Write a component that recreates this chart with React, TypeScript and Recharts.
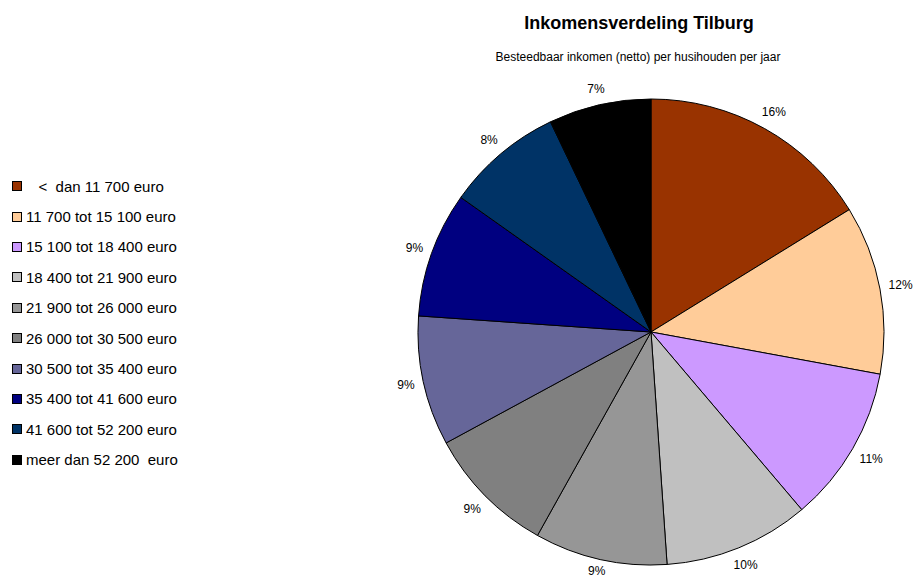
import React from 'react';
import { PieChart, Pie, Cell } from 'recharts';

// inkomensklassen
const categories = [
    '   <  dan 11 700 euro',
    '11 700 tot 15 100 euro',
    '15 100 tot 18 400 euro',
    '18 400 tot 21 900 euro',
    '21 900 tot 26 000 euro',
    '26 000 tot 30 500 euro',
    '30 500 tot 35 400 euro',
    '35 400 tot 41 600 euro',
    '41 600 tot 52 200 euro',
    'meer dan 52 200  euro',
];

// aandeel huishoudens (%)
const shares = [16.2, 11.7, 10.9, 10.1, 9.2, 9.0, 9.0, 8.7, 8.1, 7.1];

const colors = [
    '#993300',
    '#FFCC99',
    '#CC99FF',
    '#C0C0C0',
    '#969696',
    '#808080',
    '#666699',
    '#000080',
    '#003366',
    '#000000',
];

const data = categories.map((name, i) => ({ name, value: shares[i] }));

const FONT = "Arial, 'Liberation Sans', sans-serif";
const RADIAN = Math.PI / 180;
const LABEL_FS = 12;

const renderLabel = (props: any) => {
    const { cx, cy, midAngle, outerRadius, percent } = props;
    const text = `${Math.round(percent * 100)}%`;
    const digits = text.length - 1;
    const w = (digits * 0.556 + 0.889) * LABEL_FS;
    const h = LABEL_FS;
    const ux = Math.cos(-midAngle * RADIAN);
    const uy = Math.sin(-midAngle * RADIAN);
    const r = outerRadius + 8 + (w / 2) * Math.abs(ux) + (h / 2) * Math.abs(uy);
    // keep the label inside the picture
    const y = Math.min(cy + r * uy, 580 - h / 2 - 3);
    return (
        <text
            x={cx + r * ux}
            y={y}
            textAnchor="middle"
            dominantBaseline="central"
            fontSize={LABEL_FS}
            fontFamily={FONT}
            fill="#000"
        >
            {text}
        </text>
    );
};

export default function App() {
    return (
        <div style={{ position: 'absolute', left: 0, top: 0, width: 915, height: 580, background: '#fff' }}>
            <PieChart width={915} height={580} margin={{ top: 0, right: 0, bottom: 0, left: 0 }}>
                <text x={639} y={29} textAnchor="middle" fontFamily={FONT} fontSize={18} fontWeight="bold" fill="#000">
                    Inkomensverdeling Tilburg
                </text>
                <text x={638} y={57} textAnchor="middle" dominantBaseline="central" fontFamily={FONT} fontSize={12} fill="#000">
                    Besteedbaar inkomen (netto) per husihouden per jaar
                </text>
                <Pie
                    data={data}
                    dataKey="value"
                    nameKey="name"
                    cx={651}
                    cy={332}
                    outerRadius={233}
                    startAngle={90}
                    endAngle={-270}
                    stroke="#000"
                    strokeWidth={1}
                    label={renderLabel}
                    labelLine={false}
                    isAnimationActive={false}
                >
                    {data.map((d, i) => (
                        <Cell key={d.name} fill={colors[i]} />
                    ))}
                </Pie>
            </PieChart>
            <div style={{ position: 'absolute', left: 12, top: 171, fontFamily: FONT, fontSize: 15, color: '#000' }}>
                {categories.map((c, i) => (
                    <div
                        key={c}
                        style={{ display: 'flex', alignItems: 'center', height: 30.4, whiteSpace: 'pre' }}
                    >
                        <span
                            style={{
                                display: 'inline-block',
                                width: 8,
                                height: 8,
                                background: colors[i],
                                border: '1px solid #000',
                                marginRight: 4,
                            }}
                        />
                        {c}
                    </div>
                ))}
            </div>
        </div>
    );
}
